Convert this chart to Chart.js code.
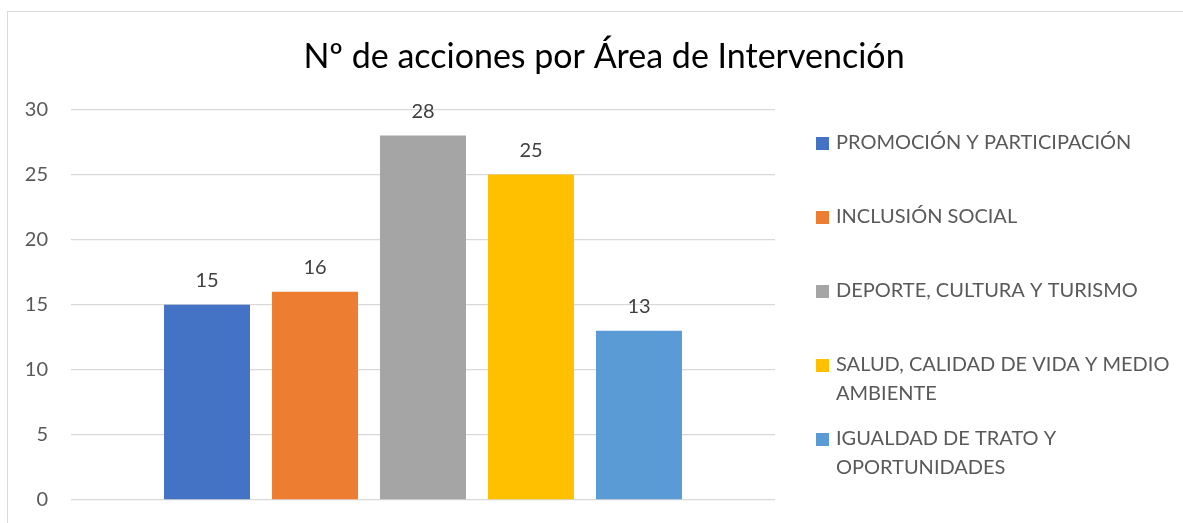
<!DOCTYPE html>
<html>
<head>
<meta charset="utf-8">
<script src="https://cdn.jsdelivr.net/npm/chart.js@4"></script>
<style>
  body { margin: 0; background: #fff; overflow: hidden; }
  #frame { position: absolute; left: 7px; top: 11px; width: 1192px; height: 535px; border: 1px solid #d9d9d9; }
</style>
</head>
<body>
<div id="frame"><canvas id="myChart" width="1192" height="523"></canvas></div>
<script>
// data
const categories = ['Áreas'];
const seriesNames = [
  'PROMOCIÓN Y PARTICIPACIÓN',
  'INCLUSIÓN SOCIAL',
  'DEPORTE, CULTURA Y TURISMO',
  'SALUD, CALIDAD DE VIDA Y MEDIO AMBIENTE',
  'IGUALDAD DE TRATO Y OPORTUNIDADES'
];
const seriesValues = [15, 16, 28, 25, 13];
const seriesColors = ['#4472C4', '#ED7D31', '#A5A5A5', '#FFC000', '#5B9BD5'];
const yTicks = [0, 5, 10, 15, 20, 25, 30];

const FONT = 'Lato';

let datasets = [];
for (let i = 0; i < seriesNames.length; i++) {
  datasets.push({
    label: seriesNames[i],
    data: [seriesValues[i]],
    backgroundColor: seriesColors[i],
    categoryPercentage: 0.767,
    barPercentage: 0.796
  });
}

// value labels above each bar
const valueLabels = {
  id: 'valueLabels',
  afterDatasetsDraw(chart) {
    const c = chart.ctx;
    c.save();
    c.font = '20px ' + FONT;
    c.fillStyle = '#404040';
    c.textAlign = 'center';
    c.textBaseline = 'middle';
    chart.data.datasets.forEach((ds, i) => {
      const bar = chart.getDatasetMeta(i).data[0];
      c.fillText(ds.data[0], bar.x, bar.y - 24);
    });
    c.restore();
  }
};

// legend on the right, wrapped like excel does
const sideLegend = {
  id: 'sideLegend',
  afterDraw(chart) {
    const c = chart.ctx;
    c.save();
    c.font = '20px ' + FONT;
    c.textBaseline = 'middle';
    const maxW = 345;
    chart.data.datasets.forEach((ds, i) => {
      const y = 131 + 74 * i;
      c.fillStyle = ds.backgroundColor;
      c.fillRect(808, y - 6, 13, 13);
      // wrap words
      let words = ds.label.split(' ');
      let lines = [];
      let cur = '';
      for (let w of words) {
        let test = cur ? cur + ' ' + w : w;
        if (c.measureText(test).width > maxW && cur) {
          lines.push(cur);
          cur = w;
        } else {
          cur = test;
        }
      }
      lines.push(cur);
      c.fillStyle = '#595959';
      lines.forEach((ln, j) => c.fillText(ln, 828, y + j * 29));
    });
    c.restore();
  }
};

var ctx = document.getElementById('myChart');
var myChart = new Chart(ctx, {
  type: 'bar',
  data: {
    labels: categories,
    datasets: datasets
  },
  options: {
    responsive: false,
    animation: false,
    layout: { padding: { left: 0, top: 0, right: 0, bottom: 29 } },
    plugins: {
      legend: { display: false },
      tooltip: { enabled: false },
      title: {
        display: true,
        text: 'Nº de acciones por Área de Intervención',
        color: '#000000',
        font: { family: FONT, size: 34, weight: 'normal', lineHeight: 1.2 },
        padding: { top: 25, bottom: 31.6 }
      }
    },
    scales: {
      x: {
        display: false
      },
      y: {
        min: 0,
        max: 30,
        afterBuildTicks(scale) {
          scale.ticks = yTicks.map(v => ({ value: v }));
        },
        afterFit(scale) { scale.width = 63; },
        border: { display: false },
        grid: { color: '#d9d9d9', lineWidth: 1.3, drawTicks: false },
        ticks: {
          color: '#595959',
          padding: 23,
          font: { family: FONT, size: 20 }
        }
      },
      // empty right-hand scale that keeps room for the legend
      legendSpace: {
        position: 'right',
        afterFit(scale) { scale.width = 425; },
        border: { display: false },
        grid: { display: false },
        ticks: { display: false }
      }
    }
  },
  plugins: [valueLabels, sideLegend]
});
</script>
</body>
</html>
